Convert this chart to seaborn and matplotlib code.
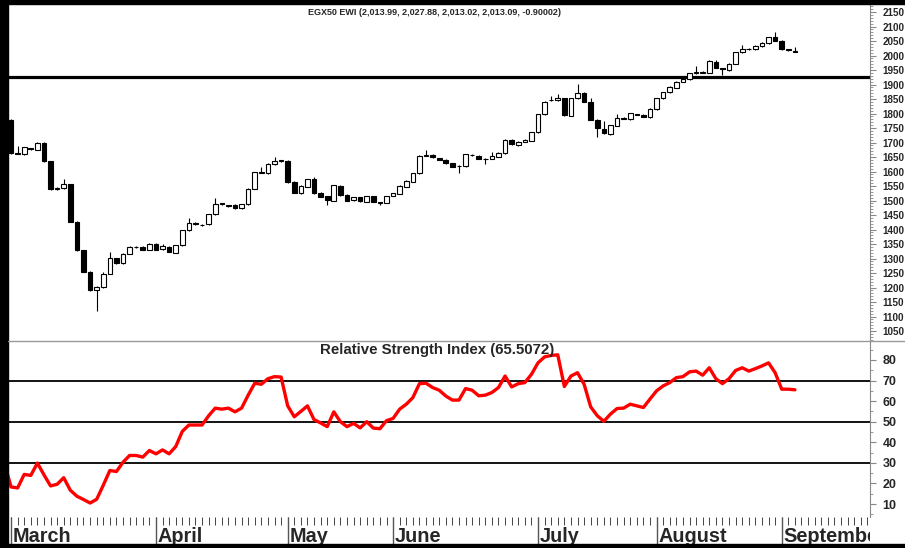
import matplotlib
matplotlib.use("Agg")
import matplotlib.pyplot as plt
import seaborn as sns
import numpy as np
import pandas as pd
from matplotlib.lines import Line2D
from matplotlib.patches import Rectangle
from matplotlib.ticker import MultipleLocator

# daily candles, one per trading session (session 0 = first March session)
opens = [1778, 1664, 1660, 1680, 1675, 1700, 1636, 1540, 1542, 1556,
         1427, 1330, 1255, 1190, 1201, 1247, 1301, 1284, 1316, 1341,
         1340, 1330, 1350, 1333, 1341, 1320, 1346, 1398, 1421, 1414,
         1418, 1453, 1490, 1483, 1485, 1473, 1487, 1540, 1596, 1594,
         1626, 1636, 1636, 1565, 1525, 1548, 1573, 1527, 1515, 1500,
         1551, 1519, 1502, 1511, 1496, 1515, 1494, 1493, 1516, 1523,
         1548, 1565, 1594, 1655, 1657, 1646, 1640, 1628, 1618, 1619,
         1658, 1654, 1642, 1644, 1651, 1663, 1709, 1691, 1703, 1706,
         1735, 1798, 1845, 1846, 1852, 1793, 1852, 1872, 1841, 1778,
         1747, 1729, 1758, 1782, 1781, 1798, 1795, 1787, 1815, 1852,
         1873, 1889, 1910, 1918, 1939, 1944, 1941, 1977, 1956, 1950,
         1971, 2011, 2021, 2021, 2033, 2042, 2063, 2050, 2022, 2013.99]
highs = [1780, 1688, 1685, 1682, 1702, 1703, 1637, 1546, 1574, 1558,
         1429, 1331, 1256, 1204, 1255, 1323, 1303, 1318, 1343, 1343,
         1342, 1352, 1352, 1350, 1343, 1348, 1400, 1439, 1425, 1420,
         1455, 1508, 1493, 1485, 1487, 1489, 1542, 1599, 1617, 1628,
         1649, 1641, 1640, 1567, 1552, 1575, 1580, 1529, 1517, 1555,
         1553, 1521, 1513, 1513, 1517, 1517, 1496, 1517, 1527, 1552,
         1570, 1596, 1657, 1674, 1659, 1648, 1642, 1630, 1622, 1661,
         1661, 1656, 1645, 1668, 1667, 1711, 1711, 1705, 1711, 1737,
         1800, 1843, 1860, 1867, 1854, 1854, 1901, 1874, 1852, 1780,
         1775, 1762, 1798, 1787, 1803, 1800, 1797, 1818, 1854, 1875,
         1894, 1912, 1921, 1941, 1964, 1946, 1984, 1985, 1958, 1973,
         2013, 2036, 2026, 2036, 2046, 2065, 2082, 2052, 2024, 2027.88]
lows = [1660, 1660, 1658, 1675, 1673, 1634, 1537, 1537, 1541, 1425,
        1327, 1252, 1187, 1120, 1199, 1245, 1282, 1282, 1315, 1336,
        1328, 1328, 1328, 1331, 1322, 1318, 1344, 1396, 1416, 1411,
        1416, 1451, 1485, 1476, 1470, 1471, 1485, 1538, 1594, 1592,
        1624, 1633, 1561, 1525, 1523, 1546, 1523, 1511, 1485, 1498,
        1517, 1498, 1500, 1495, 1494, 1494, 1484, 1491, 1514, 1521,
        1546, 1563, 1592, 1652, 1647, 1638, 1626, 1615, 1594, 1617,
        1654, 1642, 1626, 1642, 1649, 1661, 1692, 1689, 1701, 1704,
        1733, 1796, 1843, 1844, 1793, 1791, 1850, 1839, 1776, 1720,
        1730, 1727, 1756, 1780, 1779, 1794, 1787, 1785, 1813, 1850,
        1871, 1887, 1908, 1916, 1937, 1939, 1939, 1956, 1933, 1948,
        1969, 2009, 2019, 2019, 2031, 2040, 2049, 2019, 2015, 2013.02]
closes = [1664, 1662, 1683, 1676, 1700, 1636, 1540, 1543, 1557, 1427,
          1330, 1255, 1190, 1201, 1247, 1301, 1284, 1316, 1341, 1340,
          1330, 1350, 1330, 1343, 1324, 1346, 1398, 1423, 1419, 1416,
          1453, 1487, 1488, 1481, 1473, 1487, 1540, 1597, 1598, 1626,
          1637, 1638, 1563, 1527, 1550, 1573, 1525, 1513, 1502, 1553,
          1519, 1500, 1511, 1497, 1515, 1496, 1492, 1515, 1525, 1550,
          1568, 1594, 1655, 1657, 1649, 1640, 1628, 1617, 1619, 1659,
          1656, 1644, 1643, 1653, 1665, 1709, 1694, 1703, 1709, 1735,
          1798, 1841, 1847, 1852, 1795, 1852, 1872, 1841, 1778, 1749,
          1732, 1760, 1783, 1784, 1801, 1796, 1789, 1816, 1852, 1873,
          1892, 1910, 1919, 1939, 1944, 1941, 1982, 1958, 1952, 1971,
          2011, 2022, 2023, 2034, 2044, 2063, 2051, 2021, 2020, 2013.09]

# RSI, starting one session before the first candle
rsi_values = [30.0,
              18.3, 17.8, 24.4, 23.9, 29.9, 24.2, 18.8, 19.6, 22.8, 16.7,
              13.8, 12.2, 10.5, 12.3, 19.1, 26.3, 25.8, 30.3, 33.6, 33.6,
              32.8, 36.0, 34.4, 36.3, 34.4, 37.9, 45.3, 48.4, 48.4, 48.4,
              52.9, 56.6, 56.1, 56.6, 54.8, 56.6, 62.9, 68.7, 68.2, 70.9,
              71.9, 71.7, 57.7, 52.4, 55.0, 57.7, 51.0, 49.4, 47.6, 54.8,
              50.0, 47.6, 49.2, 47.0, 50.0, 46.9, 46.6, 50.5, 51.6, 56.1,
              58.5, 61.7, 68.5, 68.7, 66.6, 65.3, 62.5, 60.5, 60.5, 66.1,
              65.3, 62.6, 62.9, 64.2, 66.6, 72.2, 66.9, 68.5, 69.0, 73.0,
              78.6, 81.5, 82.2, 82.5, 67.1, 72.2, 73.8, 68.2, 57.2, 52.9,
              50.2, 53.7, 56.4, 56.6, 58.5, 57.7, 56.9, 61.0, 65.0, 67.4,
              69.0, 71.4, 71.9, 74.2, 74.6, 72.6, 76.2, 70.9, 68.5, 70.9,
              74.9, 76.2, 74.6, 75.8, 77.1, 78.6, 73.8, 65.8, 65.8, 65.5072]

month_names = ["March", "April", "May", "June", "July", "August", "September"]
month_start_days = [0, 22, 42, 58, 80, 98, 117]
calendar_days = 131  # sessions shown on the date scale

price_ticks = list(range(1050, 2151, 50))
rsi_ticks = [10, 20, 30, 40, 50, 60, 70, 80]
rsi_levels = [30, 50, 70]
resistance_level = 1925

price_title = "EGX50 EWI (2,013.99, 2,027.88, 2,013.02, 2,013.09, -0.90002)"
rsi_title = "Relative Strength Index (65.5072)"

df = pd.DataFrame({"day": np.arange(len(opens)), "open": opens, "high": highs,
                   "low": lows, "close": closes})
df["up"] = df["close"] >= df["open"]
rsi_df = pd.DataFrame({"day": np.arange(-1, len(rsi_values) - 1), "rsi": rsi_values})

sns.set_style("white")
plt.rcParams["font.family"] = ["Liberation Sans", "DejaVu Sans"]

W, H = 905, 548
fig = plt.figure(figsize=(W / 100, H / 100), dpi=100)


def panel(top, bottom):
    return [8 / W, 1 - bottom / H, (870 - 8) / W, (bottom - top) / H]


ax = fig.add_axes(panel(4, 340))
ax_rsi = fig.add_axes(panel(340, 517))
ax_d = fig.add_axes(panel(517, 544))
xlim = (-0.46, 130.4)

# candlesticks
ax.vlines(df["day"], df["low"], df["high"], color="black", lw=0.8, zorder=2)
ax.bar(df["day"], (df["close"] - df["open"]).abs(),
       bottom=df[["open", "close"]].min(axis=1), width=0.7,
       color=np.where(df["up"], "white", "black"), edgecolor="black",
       linewidth=0.8, zorder=3)
ax.axhline(resistance_level, color="black", lw=2.3, zorder=1)
ax.set_ylim(1019, 2177.6)
ax.text(0.495, 0.976, price_title, transform=ax.transAxes, ha="center",
        va="center", fontsize=6.5, fontweight="bold")

# RSI
for lv in rsi_levels:
    ax_rsi.axhline(lv, color="black", lw=1.3, zorder=1)
sns.lineplot(data=rsi_df, x="day", y="rsi", ax=ax_rsi, color="#ff0000",
             lw=2.4, zorder=3)
ax_rsi.set_ylim(3.7, 89.7)
ax_rsi.text(0.498, 0.945, rsi_title, transform=ax_rsi.transAxes, ha="center",
            va="center", fontsize=10.8, fontweight="bold")

for a, ticks, minor, fs in ((ax, price_ticks, 10, 7.1), (ax_rsi, rsi_ticks, 5, 9)):
    a.set_xlim(*xlim)
    a.set_xlabel("")
    a.set_ylabel("")
    a.yaxis.tick_right()
    a.set_yticks(ticks)
    a.yaxis.set_minor_locator(MultipleLocator(minor))
    a.tick_params(axis="y", which="major", right=True, length=4, width=0.8,
                  color="#888888", labelsize=fs, pad=5)
    a.tick_params(axis="y", which="minor", right=True, length=2, width=0.6,
                  color="#888888")
    a.tick_params(axis="x", bottom=False, labelbottom=False)
    for lab in a.get_yticklabels():
        lab.set_fontweight("bold")
    for s in ("top", "left", "bottom"):
        a.spines[s].set_visible(False)
    a.spines["right"].set_color("#888888")
    a.spines["right"].set_linewidth(0.8)

# date scale
ax_d.set_xlim(*xlim)
ax_d.set_ylim(0, 1)
ax_d.set_xticks(range(calendar_days))
ax_d.set_yticks([])
ax_d.tick_params(axis="x", top=True, bottom=False, direction="in", length=6,
                 width=0.7, color="#444444", labelbottom=False)
for s in ax_d.spines.values():
    s.set_visible(False)
ax_d.vlines(month_start_days, 0, 1, colors="#555555", lw=1)
for d, name in zip(month_start_days, month_names):
    ax_d.text(d + 0.3, 0.07, name, fontsize=14.3, fontweight="bold",
              ha="left", va="baseline", clip_on=True)

# frame bars and divider
fig.add_artist(Rectangle((0, 1 - 4 / H), 1, 4 / H, transform=fig.transFigure,
                         color="black", zorder=5))
fig.add_artist(Rectangle((0, 0), 8 / W, 1, transform=fig.transFigure,
                         color="black", zorder=5))
fig.add_artist(Rectangle((0, 0), 1, 4 / H, transform=fig.transFigure,
                         color="black", zorder=5))
fig.add_artist(Line2D([8 / W, 1], [1 - 340.5 / H] * 2, transform=fig.transFigure,
                      color="#999999", lw=1, zorder=5))

fig.savefig("out.png", dpi=100)
